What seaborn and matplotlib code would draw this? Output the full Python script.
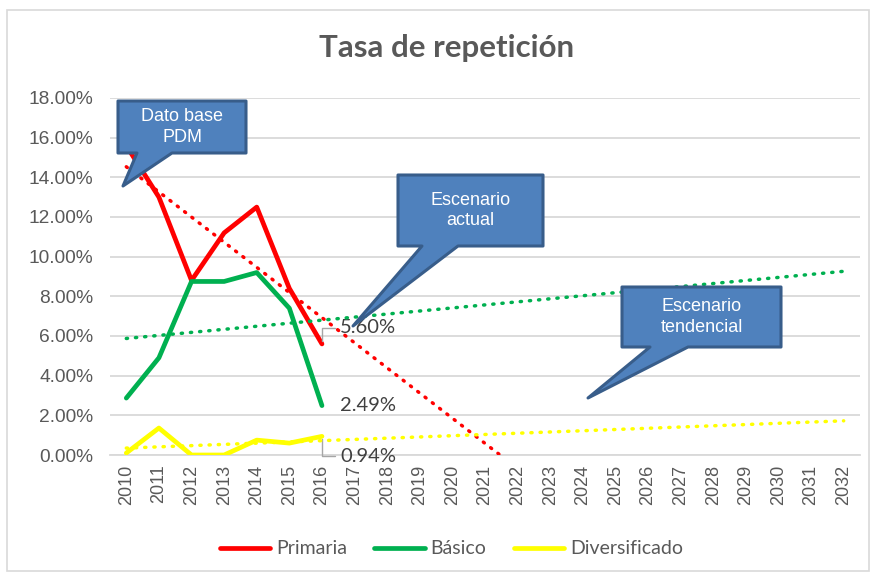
import numpy as np
import pandas as pd
import matplotlib.pyplot as plt
import seaborn as sns
from matplotlib.patches import Polygon, Rectangle
from matplotlib.ticker import FuncFormatter


# =========================================
# DATA
# =========================================

years = [2010, 2011, 2012, 2013, 2014, 2015, 2016]
primaria = [15.6, 13.0, 8.8, 11.2, 12.5, 8.4, 5.60]
basico = [2.87, 4.9, 8.75, 8.75, 9.2, 7.4, 2.49]
diversificado = [0.1, 1.36, 0.0, 0.0, 0.75, 0.6, 0.94]

series_names = ["Primaria", "Básico", "Diversificado"]
series_colors = ["#FF0000", "#00B050", "#FFFF00"]
axis_years = list(range(2010, 2033))

df = pd.DataFrame({
    "Año": years * 3,
    "Tasa": primaria + basico + diversificado,
    "Nivel": [n for n in series_names for _ in years],
})


# =========================================
# STYLE
# =========================================

sns.set_style("white")
plt.rcParams["font.family"] = ["Liberation Sans", "DejaVu Sans"]

W, H = 875, 575
fig = plt.figure(figsize=(W / 100, H / 100), dpi=100)
ax = fig.add_axes([110 / W, 1 - 455 / H, 750 / W, 357 / H])


def px(x, y):
    return (x / W, 1 - y / H)


# chart border
fig.patches.append(Rectangle(px(7, 571), 862 / W, 561 / H, transform=fig.transFigure,
                             fill=False, edgecolor="#D9D9D9", linewidth=1.2))


# =========================================
# LINES
# =========================================

sns.lineplot(data=df, x="Año", y="Tasa", hue="Nivel", hue_order=series_names,
             palette=series_colors, linewidth=3.4, ax=ax, zorder=3)

# linear trend lines (Excel style) extended to 2032
for vals, col in zip([primaria, basico, diversificado], series_colors):
    slope, intercept = np.polyfit(years, vals, 1)
    trend = [slope * yr + intercept for yr in axis_years]
    ax.plot(axis_years, trend, color=col, linewidth=2.5,
            linestyle=(0, (0.35, 2.3)), dash_capstyle="round", zorder=4)

ax.set_xlim(2009.5, 2032.5)
ax.set_ylim(0, 18)
ax.set_yticks(np.arange(0, 18.1, 2))
ax.yaxis.set_major_formatter(FuncFormatter(lambda v, p: f"{v:.2f}%"))
ax.set_xticks(axis_years)
ax.set_xticklabels([str(y) for y in axis_years], rotation=90)
ax.tick_params(axis="both", length=0, labelsize=13, labelcolor="#595959")
ax.tick_params(axis="y", pad=12, labelsize=13.8)
ax.tick_params(axis="x", pad=7)
ax.set_xlabel("")
ax.set_ylabel("")
ax.grid(axis="y", color="#D9D9D9", linewidth=1.3)
ax.set_axisbelow(True)
for side in ["top", "right", "left"]:
    ax.spines[side].set_visible(False)
ax.spines["bottom"].set_color("#D9D9D9")
ax.spines["bottom"].set_linewidth(1.3)

fig.text(px(447, 48)[0], px(447, 48)[1], "Tasa de repetición", ha="center", va="center",
         fontsize=22.5, fontweight="bold", color="#595959", family="Lato")

sns.move_legend(ax, "center", bbox_to_anchor=(0.455, -0.263), ncol=3, frameon=False,
                title=None, handlelength=2.6, handletextpad=0.3,
                columnspacing=1.4, prop={"family": "Lato", "size": 14})
for t in ax.get_legend().get_texts():
    t.set_color("#595959")


# =========================================
# DATA LABELS
# =========================================

lab_kw = dict(textcoords="offset pixels", fontsize=14.5, color="#404040", family="Lato",
              va="center", ha="left")
ax.annotate(f"{primaria[-1]:.2f}%", xy=(years[-1], primaria[-1]), xytext=(18, 16),
            arrowprops=dict(arrowstyle="-", color="#A6A6A6", lw=1,
                            connectionstyle="angle,angleA=0,angleB=90,rad=0",
                            shrinkA=1, shrinkB=2), **lab_kw)
ax.annotate(f"{basico[-1]:.2f}%", xy=(years[-1], basico[-1]), xytext=(18, 0), **lab_kw)
ax.annotate(f"{diversificado[-1]:.2f}%", xy=(years[-1], diversificado[-1]), xytext=(18, -20),
            arrowprops=dict(arrowstyle="-", color="#A6A6A6", lw=1,
                            connectionstyle="angle,angleA=0,angleB=90,rad=0",
                            shrinkA=1, shrinkB=2), **lab_kw)


# =========================================
# CALLOUTS
# =========================================

def callout(box, tail, tip, text):
    x0, y0, x1, y1 = box
    pts = [(x0, y0), (x1, y0), (x1, y1), (tail[1], y1), tip, (tail[0], y1), (x0, y1)]
    poly = Polygon([px(*p) for p in pts], closed=True, transform=fig.transFigure,
                   facecolor="#4F81BD", edgecolor="#385D8A", linewidth=2.2,
                   joinstyle="round", zorder=10)
    fig.patches.append(poly)
    cx, cy = px((x0 + x1) / 2, (y0 + y1) / 2)
    fig.text(cx, cy, text, ha="center", va="center", color="white", fontsize=13,
             linespacing=1.25, zorder=11)


callout((118, 101, 246, 153), (137, 172), (123, 186), "Dato base\nPDM")
callout((398, 175, 543, 246), (422, 458), (353, 326), "Escenario\nactual")
callout((622, 287, 781, 347), (650, 688), (588, 398), "Escenario\ntendencial")

plt.savefig("out.png", dpi=100)
